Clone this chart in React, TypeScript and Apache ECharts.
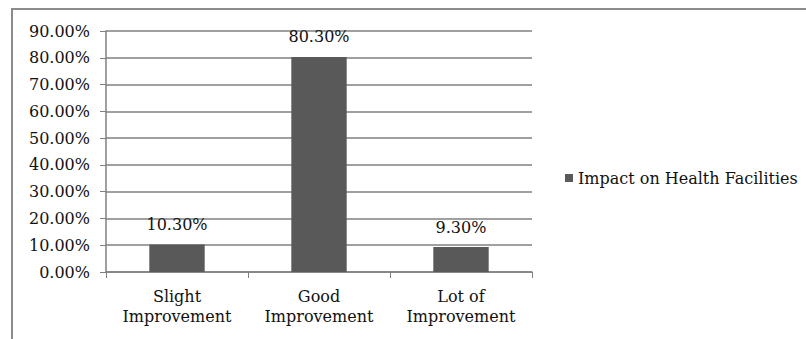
import React, { useEffect, useRef } from "react";
import * as echarts from "echarts";

const categories = ["Slight\nImprovement", "Good\nImprovement", "Lot of\nImprovement"];
const values = [10.3, 80.3, 9.3];
const seriesName = "Impact on Health Facilities";

export default function App() {
  const ref = useRef<HTMLDivElement>(null);
  useEffect(() => {
    if (!ref.current) return;
    const chart = echarts.init(ref.current, null, { renderer: "svg" });
    const font = "'DejaVu Serif', 'Liberation Serif', serif";
    chart.setOption({
      animation: false,
      backgroundColor: "#ffffff",
      textStyle: { fontFamily: font },
      graphic: [
        {
          type: "rect",
          shape: { x: 12, y: 9, width: 820, height: 360 },
          style: { fill: "none", stroke: "#8c8c8c", lineWidth: 2 },
          silent: true,
        },
      ],
      grid: { left: 106, right: 274, top: 31, bottom: 67, containLabel: false },
      legend: {
        data: [seriesName],
        left: 560,
        top: 165,
        icon: "rect",
        itemWidth: 8,
        itemHeight: 8,
        itemGap: 4,
        textStyle: { fontFamily: font, fontSize: 16, color: "#111" },
      },
      xAxis: {
        type: "category",
        data: categories,
        axisLine: { lineStyle: { color: "#808080", width: 1.5 } },
        axisTick: { show: true, length: 6, alignWithLabel: false, lineStyle: { color: "#808080" } },
        axisLabel: { fontFamily: font, fontSize: 16, color: "#111", lineHeight: 20, margin: 14 },
      },
      yAxis: {
        type: "value",
        min: 0,
        max: 90,
        interval: 10,
        axisLine: { show: true, lineStyle: { color: "#808080", width: 1.5 } },
        axisTick: { show: true, length: 6, lineStyle: { color: "#808080" } },
        splitLine: { lineStyle: { color: "#808080", width: 1.5 } },
        axisLabel: {
          fontFamily: font,
          fontSize: 16,
          color: "#111",
          margin: 16,
          formatter: (v: number) => v.toFixed(2) + "%",
        },
      },
      series: [
        {
          name: seriesName,
          type: "bar",
          data: values,
          barWidth: "39%",
          itemStyle: { color: "#595959" },
          label: {
            show: true,
            position: "top",
            distance: 12,
            fontFamily: font,
            fontSize: 16,
            color: "#111",
            formatter: (p: any) => p.value.toFixed(2) + "%",
          },
        },
      ],
    });
    return () => chart.dispose();
  }, []);
  return (
    <div
      ref={ref}
      style={{ position: "fixed", left: 0, top: 0, width: 806, height: 339 }}
    />
  );
}
